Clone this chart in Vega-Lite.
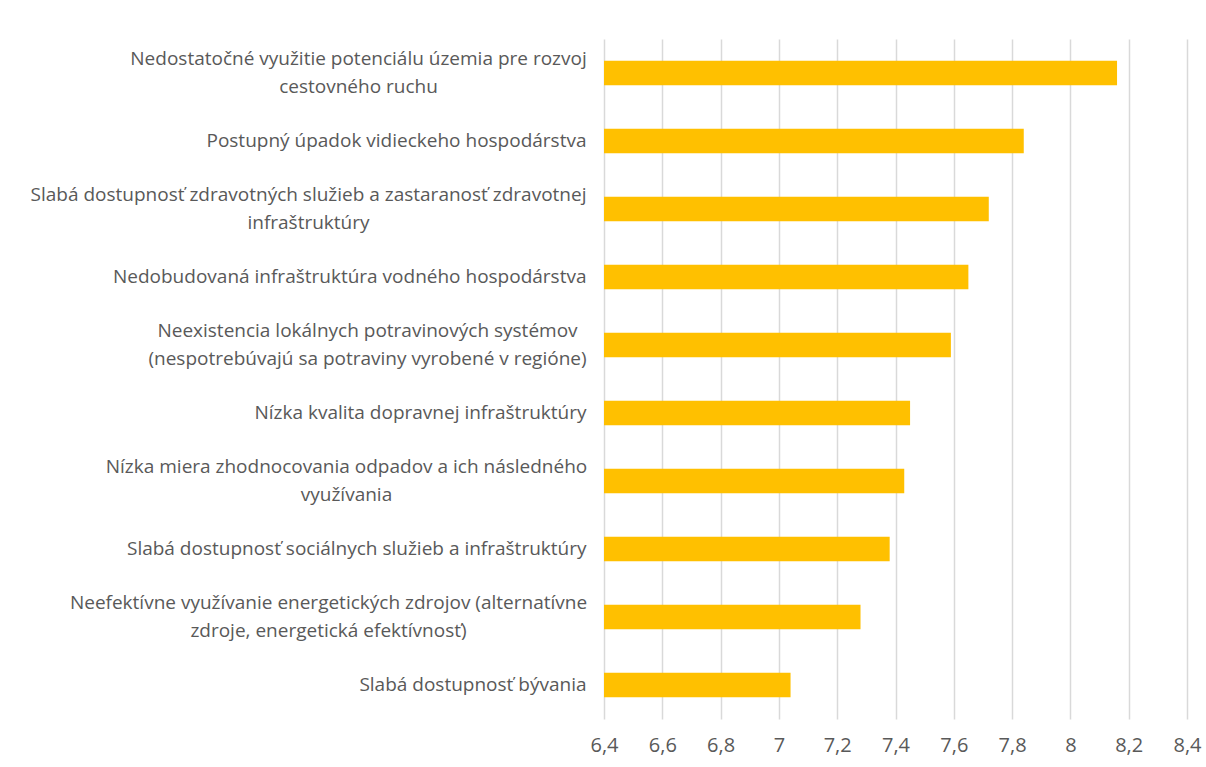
{
  "$schema": "https://vega.github.io/schema/vega-lite/v6.json",
  "width": 583,
  "height": 680,
  "autosize": "none",
  "padding": {"left": 604, "top": 39, "right": 19, "bottom": 48},
  "background": "white",
  "config": {"view": {"stroke": null}},
  "data": {
    "values": [
      {"label": "Nedostatočné využitie potenciálu územia pre rozvoj|cestovného ruchu", "value": 8.16},
      {"label": "Postupný úpadok vidieckeho hospodárstva", "value": 7.84},
      {"label": "Slabá dostupnosť zdravotných služieb a zastaranosť zdravotnej|infraštruktúry", "value": 7.72},
      {"label": "Nedobudovaná infraštruktúra vodného hospodárstva", "value": 7.65},
      {"label": "Neexistencia lokálnych potravinových systémov|(nespotrebúvajú sa potraviny vyrobené v regióne)", "value": 7.59},
      {"label": "Nízka kvalita dopravnej infraštruktúry", "value": 7.45},
      {"label": "Nízka miera zhodnocovania odpadov a ich následného|využívania", "value": 7.43},
      {"label": "Slabá dostupnosť sociálnych služieb a infraštruktúry", "value": 7.38},
      {"label": "Neefektívne využívanie energetických zdrojov (alternatívne|zdroje, energetická efektívnosť)", "value": 7.28},
      {"label": "Slabá dostupnosť bývania", "value": 7.04}
    ]
  },
  "mark": {"type": "bar", "color": "#FFC000", "clip": true},
  "encoding": {
    "y": {
      "field": "label",
      "type": "nominal",
      "sort": "-x",
      "scale": {"paddingInner": 0.64, "paddingOuter": 0.32},
      "axis": {
        "title": null,
        "domain": false,
        "ticks": false,
        "labelExpr": "split(datum.label, '|')",
        "labelFont": "Open Sans",
        "labelFontSize": 19,
        "labelColor": "#595959",
        "labelLineHeight": 28,
        "labelLimit": 700,
        "labelAlign": {"condition": {"test": "indexof(datum.value, '|') >= 0", "value": "center"}, "value": "right"},
        "labelOffset": {"condition": {"test": "indexof(datum.value, '|') >= 0", "value": -14}, "value": 0},
        "labelPadding": {
          "condition": [
            {"test": "indexof(datum.value, 'Nedostatočné') === 0", "value": 246},
            {"test": "indexof(datum.value, 'Slabá dostupnosť zdravotných') === 0", "value": 296},
            {"test": "indexof(datum.value, 'Neexistencia') === 0", "value": 237},
            {"test": "indexof(datum.value, 'Nízka miera') === 0", "value": 258},
            {"test": "indexof(datum.value, 'Neefektívne') === 0", "value": 276}
          ],
          "value": 18
        }
      }
    },
    "x": {
      "field": "value",
      "type": "quantitative",
      "scale": {"domain": [6.4, 8.4], "zero": false, "nice": false},
      "axis": {
        "title": null,
        "values": [6.4, 6.6, 6.8, 7.0, 7.2, 7.4, 7.6, 7.8, 8.0, 8.2, 8.4],
        "labelExpr": "replace(format(datum.value, '.1~f'), '.', ',')",
        "labelFlush": false,
        "labelOverlap": false,
        "domain": false,
        "ticks": false,
        "grid": true,
        "gridColor": "#d9d9d9",
        "gridWidth": 1.5,
        "labelFont": "Open Sans",
        "labelFontSize": 20,
        "labelColor": "#595959",
        "labelPadding": 16
      }
    }
  }
}
